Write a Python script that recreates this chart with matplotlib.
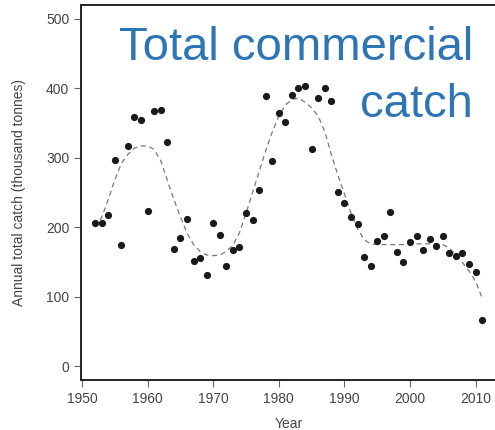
import numpy as np
import matplotlib
matplotlib.use('Agg')
import matplotlib.pyplot as plt

plt.rcParams['font.family'] = ['Liberation Sans', 'DejaVu Sans']

# Annual catch points (thousand tonnes)
years = list(range(1952, 2012))
catch = [206, 206, 218, 297, 174, 317, 359, 354, 224, 367,
         369, 322, 168, 184, 212, 152, 155, 131, 206, 189,
         144, 167, 172, 220, 210, 254, 389, 296, 365, 352,
         391, 401, 404, 313, 386, 400, 382, 251, 235, 215,
         205, 157, 144, 180, 188, 222, 165, 150, 179, 187,
         167, 183, 173, 188, 163, 158, 163, 147, 136, 66]

# Smoothed trend (dashed)
trend = [200, 214, 240, 268, 292, 305, 314, 317, 317, 312,
         296, 268, 240, 215, 192, 175, 165, 160, 159, 160,
         165, 174, 192, 220, 250, 280, 310, 337, 360, 376,
         384, 386, 380, 372, 360, 338, 305, 275, 248, 220,
         198, 182, 176, 175, 175, 175, 175, 175, 175, 176,
         176, 176, 176, 175, 170, 160, 149, 137, 122, 98]

fig = plt.figure(figsize=(4.95, 4.3), dpi=100)
ax = fig.add_axes([81/495, 50/430, 416/495, 375/430])

ax.plot(years, trend, color='#777777', lw=0.9, ls=(0, (4, 3)))
ax.plot(years, catch, 'o', color='#1a1a1a', ms=5.2, mec='none')

ax.set_xlim(1949.85, 2013.26)
ax.set_ylim(-20, 520)
ax.set_xticks(range(1950, 2011, 10))
ax.set_yticks(range(0, 501, 100))

for s in ['left', 'bottom', 'top']:
    ax.spines[s].set_linewidth(1.4)
    ax.spines[s].set_color('#222222')
ax.spines['right'].set_visible(False)
ax.tick_params(direction='out', length=5, width=0.8, color='#666666',
               labelsize=10, labelcolor='#444444')

ax.set_xlabel('Year', fontsize=10, color='#444444', labelpad=8)
ax.set_ylabel('Annual total catch (thousand tonnes)', fontsize=10,
              color='#444444', labelpad=14)

fig.text(473/495, 1 - 60/430, 'Total commercial', fontsize=34,
         color='#2e75b6', ha='right', va='baseline')
fig.text(473/495, 1 - 117/430, 'catch', fontsize=34,
         color='#2e75b6', ha='right', va='baseline')

fig.savefig('out.png', dpi=100)
